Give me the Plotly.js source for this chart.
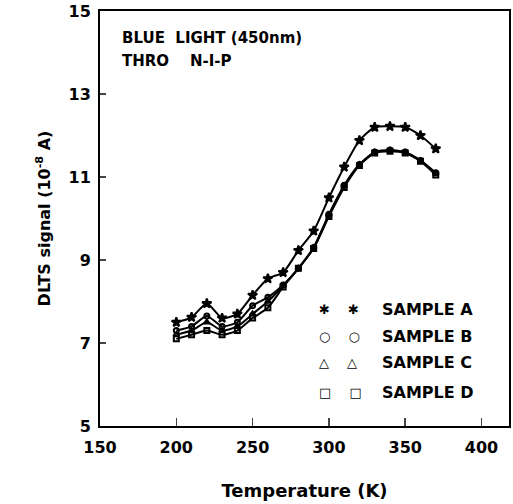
<!DOCTYPE html>
<html><head><meta charset="utf-8">
<script src="https://cdn.plot.ly/plotly-3.0.1.min.js"></script>
<style>body{margin:0;background:#fff}#c{width:513px;height:504px}</style>
</head><body><div id="c"></div>
<script>
const temperature = [200,210,220,230,240,250,260,270,280,290,300,310,320,330,340,350,360,370];
const sampleA = [7.5,7.62,7.95,7.6,7.7,8.15,8.55,8.7,9.23,9.7,10.5,11.24,11.88,12.2,12.22,12.2,12.0,11.68];
const sampleB = [7.3,7.4,7.65,7.4,7.5,7.9,8.1,8.4,8.8,9.3,10.1,10.8,11.3,11.6,11.65,11.6,11.4,11.1];
const sampleC = [7.2,7.3,7.5,7.3,7.4,7.7,8.0,8.38,8.8,9.3,10.08,10.78,11.3,11.6,11.64,11.59,11.39,11.08];
const sampleD = [7.1,7.2,7.3,7.2,7.3,7.6,7.85,8.35,8.8,9.28,10.05,10.75,11.28,11.58,11.62,11.58,11.38,11.05];
const legendNames = ["SAMPLE A","SAMPLE B","SAMPLE C","SAMPLE D"];
const legendGlyphs = ["✱","○","△","□"];

const F = "DejaVu Sans, Arial, sans-serif";
function tr(y, sym, size){
  return {x: temperature, y: y, mode: "lines+markers", type: "scatter", showlegend: false,
    line: {color: "#000", width: 2, shape: "spline", smoothing: 0.6},
    marker: {symbol: sym, size: size, color: "#000", line: {color: "#000", width: 2}}};
}
const data = [
  tr(sampleD, "square-open", 5),
  tr(sampleC, "triangle-up-open", 5),
  tr(sampleB, "circle-open", 5),
  tr(sampleA, "star", 7)
];
const legY = [0.28, 0.215, 0.152, 0.08];
const annotations = [
  {xref:"paper", yref:"paper", x:0.05, y:0.935, xanchor:"left", yanchor:"middle", showarrow:false,
   text:"BLUE  LIGHT (450nm)", font:{family:F, size:15, color:"#000", weight:"bold"}},
  {xref:"paper", yref:"paper", x:0.05, y:0.88, xanchor:"left", yanchor:"middle", showarrow:false,
   text:"THRO    N-I-P", font:{family:F, size:15, color:"#000", weight:"bold"}}
];
legendNames.forEach((n,i)=>{
  annotations.push({xref:"paper", yref:"paper", x:0.53, y:legY[i], xanchor:"left", yanchor:"middle", showarrow:false,
    text: legendGlyphs[i] + "    " + legendGlyphs[i], font:{family:F, size:13, color:"#000", weight:"bold"}});
  annotations.push({xref:"paper", yref:"paper", x:0.685, y:legY[i], xanchor:"left", yanchor:"middle", showarrow:false,
    text: n, font:{family:F, size:16, color:"#000", weight:"bold"}});
});
const layout = {
  width: 513, height: 504,
  margin: {l: 100, r: 4, t: 11, b: 78},
  paper_bgcolor: "#fff", plot_bgcolor: "#fff",
  font: {family: F, color: "#000"},
  xaxis: {range: [150, 418], tickvals: [150,200,250,300,350,400], ticks: "inside", ticklen: 8, tickwidth: 1.5,
    showline: true, linecolor: "#000", linewidth: 2, mirror: true, showgrid: false, zeroline: false,
    ticklabelstandoff: 6,
    tickfont: {family: F, size: 16, color: "#000", weight: "bold"},
    title: {text: "Temperature (K)", font: {family: F, size: 18, color: "#000", weight: "bold"}, standoff: 28}},
  yaxis: {range: [5, 15], tickvals: [5,7,9,11,13,15], ticks: "inside", ticklen: 6, tickwidth: 1.5,
    showline: true, linecolor: "#000", linewidth: 2, mirror: true, showgrid: false, zeroline: false,
    ticklabelstandoff: 4,
    tickfont: {family: F, size: 16, color: "#000", weight: "bold"},
    title: {text: "DLTS signal (10<sup>-8</sup> A)", font: {family: F, size: 16, color: "#000", weight: "bold"}, standoff: 14}},
  annotations: annotations
};
Plotly.newPlot("c", data, layout, {staticPlot: true});
</script></body></html>
